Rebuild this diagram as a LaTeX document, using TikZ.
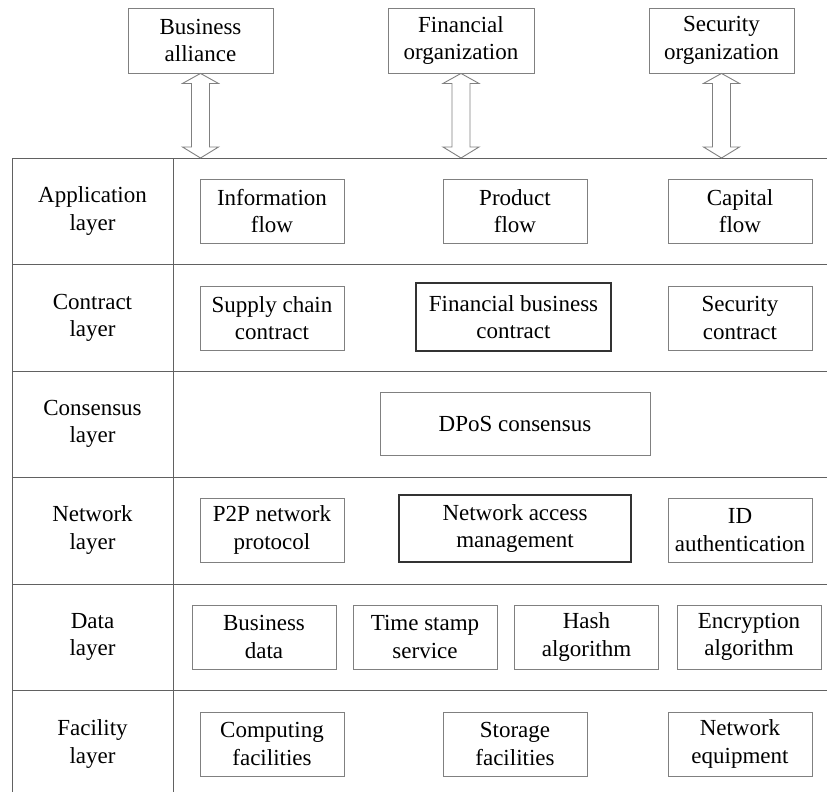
\documentclass[tikz,border=0pt]{standalone}
\usepackage{fontspec}
\setmainfont{Liberation Serif}
\usepackage{xcolor}
\usetikzlibrary{calc}

\definecolor{boxgray}{gray}{0.5}
\definecolor{rulegray}{gray}{0.38}
\definecolor{keygray}{gray}{0.2}

\tikzset{
    cell/.style={align=center, draw=boxgray, line width=0.9pt, inner sep=0pt,
        minimum width=144, minimum height=64,
        font=\fontsize{23}{27.6}\selectfont},
    keycell/.style={cell, draw=keygray, line width=1.4pt},
    layer/.style={align=center, inner sep=0pt, font=\fontsize{23}{27.6}\selectfont},
    rule/.style={draw=rulegray, line width=1pt},
    bigarrow/.style={draw=boxgray, line width=0.9pt, fill=white, line join=miter}
}

\begin{document}
\begin{tikzpicture}[x=1pt,y=1pt,yscale=-1]

    \useasboundingbox (0,0) rectangle (827,792);

    % outside parties
    \draw (200.5,40.5) node [cell, minimum width=145, minimum height=65] (ba) {Business\\alliance};
    \draw (461,40.5) node [cell, minimum width=146, minimum height=65] (fo) {Financial\\organization};
    \draw (721.5,40.5) node [cell, minimum width=145, minimum height=65] (so) {Security\\organization};

    % table frame
    \coordinate (tabtop) at (12,158);
    \draw [rule] (827,158) -- (tabtop) -- (12,792);
    \draw [rule] (173,158) -- (173,792);
    \foreach \y in {264.5,371,477.5,584,690.5}
        \draw [rule] (12,\y) -- (827,\y);

    % hollow double arrows
    \foreach \org in {ba,fo,so} {
        \draw [bigarrow] (\org.south) -- ($(\org.south)+(18,10)$) -- ($(\org.south)+(9,10)$)
            -- ($(\org.south |- tabtop)+(9,-11)$) -- ($(\org.south |- tabtop)+(18,-11)$)
            -- (\org.south |- tabtop) -- ($(\org.south |- tabtop)+(-18,-11)$)
            -- ($(\org.south |- tabtop)+(-9,-11)$) -- ($(\org.south)+(-9,10)$)
            -- ($(\org.south)+(-18,10)$) -- cycle;
    }

    % layer names
    \draw (92.5,211) node [layer] (lapp) {Application\\layer};
    \draw (92.5,318) node [layer] (lcon) {Contract\\layer};
    \draw (92.5,424) node [layer] (lcns) {Consensus\\layer};
    \draw (92.5,530) node [layer] (lnet) {Network\\layer};
    \draw (92.5,637) node [layer] (ldat) {Data\\layer};
    \draw (92.5,744) node [layer] (lfac) {Facility\\layer};

    % application layer
    \draw (272,211) node [cell] (info) {Information\\flow};
    \draw (515,211) node [cell] (prod) {Product\\flow};
    \draw (740,211) node [cell] (capi) {Capital\\flow};

    % contract layer
    \draw (272,318) node [cell] (supc) {Supply chain\\contract};
    \draw (513.5,317) node [keycell, minimum width=195, minimum height=68] (finc) {Financial business\\contract};
    \draw (740,318) node [cell] (secc) {Security\\contract};

    % consensus layer
    \draw (515,423.5) node [cell, minimum width=270, minimum height=63] (dpos) {DPoS consensus};

    % network layer
    \draw (272,530) node [cell] (p2p) {P2P network\\protocol};
    \draw (515,528.5) node [keycell, minimum width=232, minimum height=67] (nam) {Network access\\management};
    \draw (740,530) node [cell] (idau) {ID\\authentication};

    % data layer
    \draw (264,637) node [cell] (bdat) {Business\\data};
    \draw (425,637) node [cell] (tss) {Time stamp\\service};
    \draw (586.5,637) node [cell] (hash) {Hash\\algorithm};
    \draw (749,637) node [cell] (encr) {Encryption\\algorithm};

    % facility layer
    \draw (272,744) node [cell] (comp) {Computing\\facilities};
    \draw (515,744) node [cell] (stor) {Storage\\facilities};
    \draw (740,744) node [cell] (neqp) {Network\\equipment};

\end{tikzpicture}
\end{document}
